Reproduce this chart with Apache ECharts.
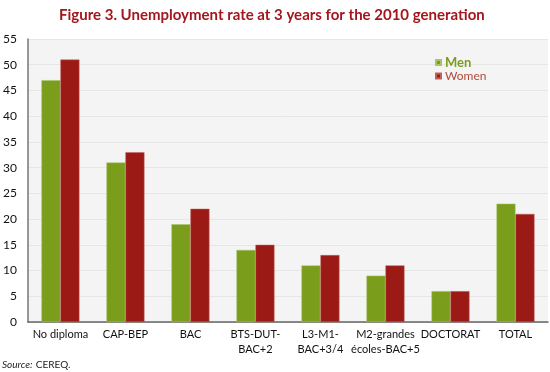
<!DOCTYPE html>
<html><head><meta charset="utf-8">
<script src="https://cdn.jsdelivr.net/npm/echarts@6/dist/echarts.min.js"></script>
<style>html,body{margin:0;padding:0;background:#fff}#c{width:550px;height:372px}</style>
</head><body><div id="c"></div>
<script>
const categories = ['No diploma','CAP-BEP','BAC','BTS-DUT-\nBAC+2','L3-M1-\nBAC+3/4','M2-grandes\nécoles-BAC+5','DOCTORAT','TOTAL'];
const men = [47,31,19,14,11,9,6,23];
const women = [51,33,22,15,13,11,6,21];
const chart = echarts.init(document.getElementById('c'));
chart.setOption({
  backgroundColor:'#fff',
  animation:false,
  title:{text:'Figure 3. Unemployment rate at 3 years for the 2010 generation',left:54,top:3,
    textStyle:{color:'#a3161e',fontSize:15,fontWeight:'bold',fontFamily:'Lato'}},
  graphic:[{type:'text',left:2,top:359,style:{rich:{i:{fontStyle:'italic',fontSize:10,fontFamily:'Lato',fill:'#222'},n:{fontSize:10,fontFamily:'Lato',fill:'#222'}},text:'{i|Source:} {n|CEREQ.}'}}],
  legend:{orient:'vertical',left:430,top:51,itemWidth:5,itemHeight:5,itemGap:1,icon:'rect',
    data:[{name:'Men',textStyle:{color:'#7a9e1c',fontWeight:'bold',fontSize:13}},{name:'Women',textStyle:{color:'#b24a3a',fontSize:12}}],
    textStyle:{fontFamily:'Lato',padding:[0,0,0,-1]}},
  grid:{left:25,right:2,top:39,bottom:50,containLabel:false,show:true,backgroundColor:'#f4f4f4',borderWidth:0},
  xAxis:{type:'category',data:categories,axisTick:{show:false},
    axisLine:{lineStyle:{color:'#666',width:1.5}},
    axisLabel:{color:'#111',fontSize:11,fontFamily:'Lato',interval:0,margin:5,lineHeight:15}},
  yAxis:{type:'value',min:0,max:55,interval:5,
    axisLine:{show:true,lineStyle:{color:'#777',width:1.5}},axisTick:{show:false},
    splitLine:{lineStyle:{color:'#e6e6e6'}},
    axisLabel:{color:'#111',fontSize:12,fontFamily:'Lato',margin:11}},
  series:[
    {name:'Men',type:'bar',data:men,barWidth:19,barGap:'0%',itemStyle:{color:'#7a9e1c',borderColor:'#a8c46a',borderWidth:0.5}},
    {name:'Women',type:'bar',data:women,barWidth:19,itemStyle:{color:'#9b1a16',borderColor:'#c0605a',borderWidth:0.5}}
  ]
});
</script></body></html>
